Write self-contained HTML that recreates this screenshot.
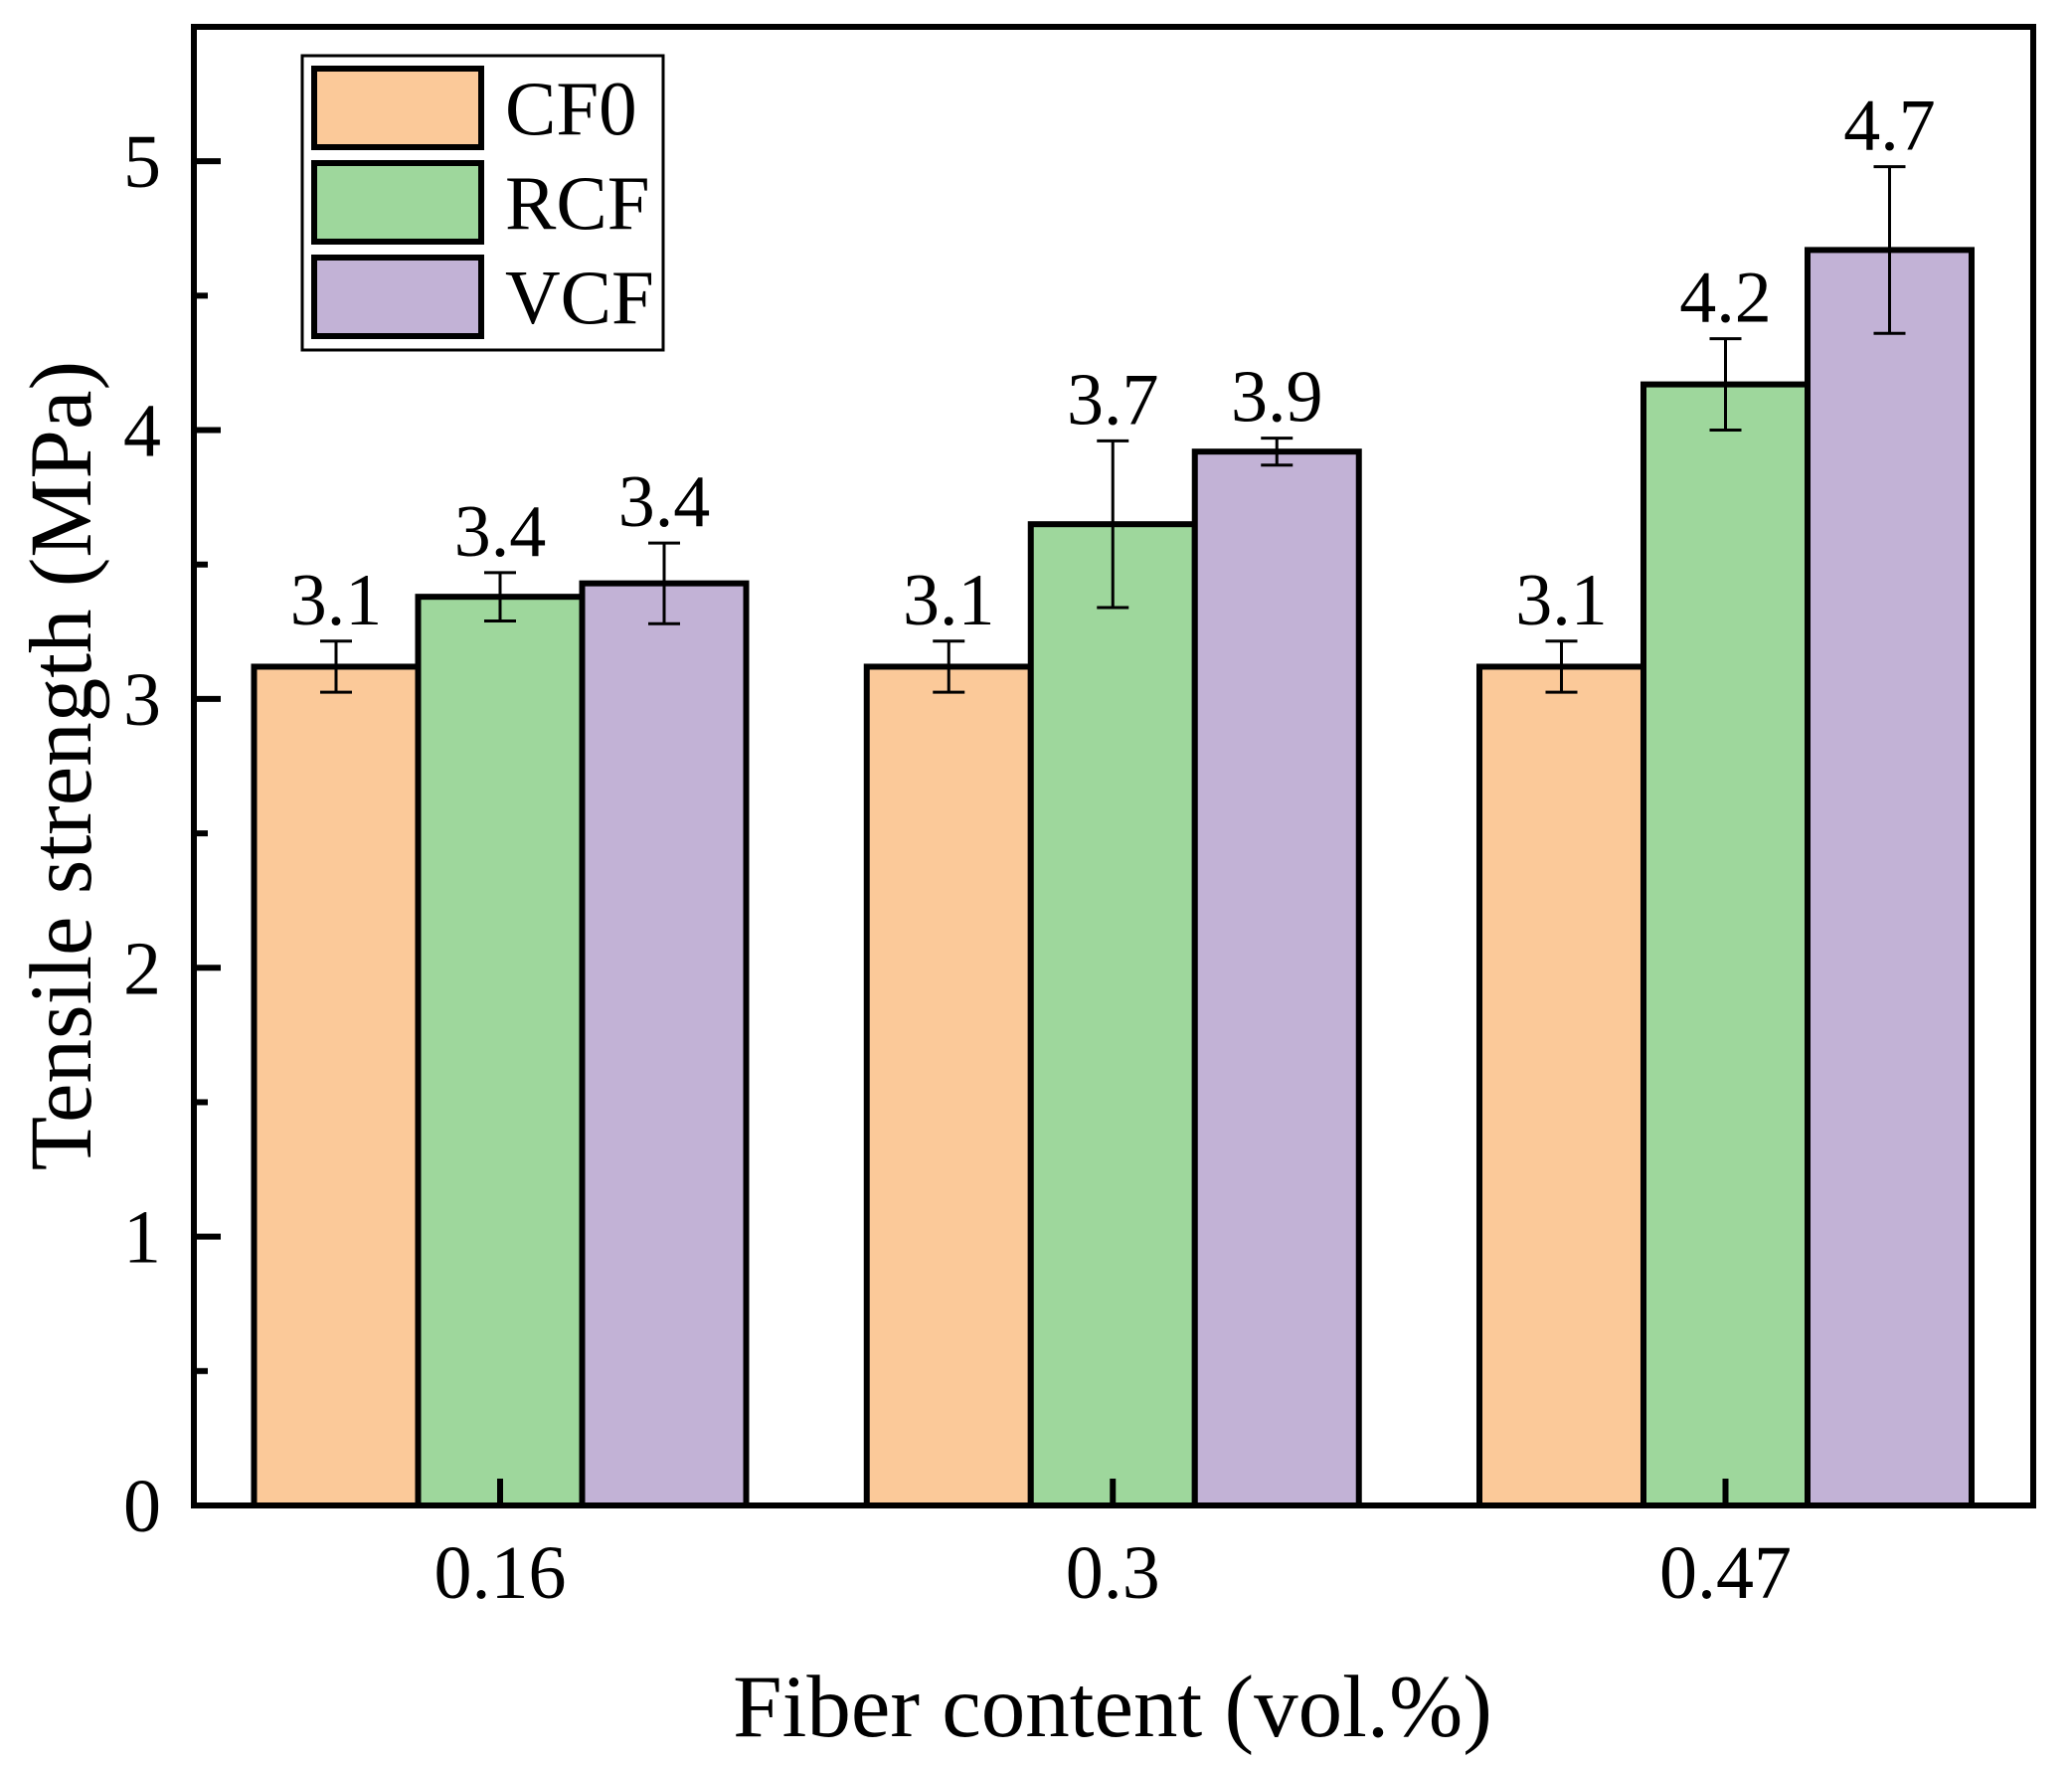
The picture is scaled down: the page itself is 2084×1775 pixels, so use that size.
<!DOCTYPE html>
<html><head><meta charset="utf-8"><style>
html,body{margin:0;padding:0;background:#fff;}
svg{display:block;}
text{font-family:"Liberation Serif",serif;fill:#000;}
</style></head><body>
<svg id="chart" width="2084" height="1775" viewBox="0 0 2084 1775" xmlns="http://www.w3.org/2000/svg">
<g id="bars"></g>
<g id="axes"></g>
<g id="legend"></g>
</svg>
<script>
const categories = ["0.16", "0.3", "0.47"];
const seriesNames = ["CF0", "RCF", "VCF"];
const cf0Values = [3.12, 3.12, 3.12];
const rcfValues = [3.38, 3.65, 4.17];
const vcfValues = [3.43, 3.92, 4.67];
const cf0Errors = [0.095, 0.095, 0.095];
const rcfErrors = [0.09, 0.31, 0.17];
const vcfErrors = [0.15, 0.05, 0.31];
const cf0Labels = ["3.1", "3.1", "3.1"];
const rcfLabels = ["3.4", "3.7", "4.2"];
const vcfLabels = ["3.4", "3.9", "4.7"];
const yTicks = [0, 1, 2, 3, 4, 5];

const NS = "http://www.w3.org/2000/svg";
const colors = ["#FBC999", "#9ED79C", "#C2B2D6"];
const values = [cf0Values, rcfValues, vcfValues];
const errors = [cf0Errors, rcfErrors, vcfErrors];
const labels = [cf0Labels, rcfLabels, vcfLabels];
const plot = {left:195, right:2045, top:27, bottom:1514};
const yMax = 5.5;
function yScale(v){ return plot.bottom - v/yMax*(plot.bottom-plot.top); }
const groupStart = 503, groupStep = 616.25, barW = 165;
function xCenter(i){ return groupStart + i*groupStep; }
function mk(tag, attrs, parent){ const e=document.createElementNS(NS,tag); for(const k in attrs) e.setAttribute(k,attrs[k]); parent.appendChild(e); return e; }

const barsG = document.getElementById('bars');
for(let s=0;s<3;s++){
  for(let i=0;i<categories.length;i++){
    const cx = xCenter(i) + (s-1)*barW;
    const v = values[s][i], e = errors[s][i];
    const r = mk('rect',{x:cx-barW/2,y:yScale(v),width:barW,height:plot.bottom-yScale(v),fill:colors[s],stroke:'#000','stroke-width':6},barsG);
    
    
    const yt=yScale(v+e), yb=yScale(v-e);
    const eg = mk('g',{stroke:'#000','stroke-width':3},barsG);
    
    
    mk('line',{x1:cx,x2:cx,y1:yt,y2:yb},eg);
    mk('line',{x1:cx-16,x2:cx+16,y1:yt,y2:yt},eg);
    mk('line',{x1:cx-16,x2:cx+16,y1:yb,y2:yb},eg);
    const t = mk('text',{x:cx,y:yt-17,'text-anchor':'middle','font-size':74},barsG);
    t.textContent = labels[s][i];
    
    
  }
}

const axG = document.getElementById('axes');
const frame = mk('rect',{x:plot.left,y:plot.top,width:plot.right-plot.left,height:plot.bottom-plot.top,fill:'none',stroke:'#000','stroke-width':6},axG);


for(let v=0; v<=yMax+1e-9; v+=0.5){
  const y=yScale(v);
  const major = Math.abs(v-Math.round(v))<1e-9;
  const tk = mk('line',{x1:plot.left,x2:plot.left+(major?27:14),y1:y,y2:y,stroke:'#000','stroke-width':6},axG);
  
  
}
yTicks.forEach(v=>{
  const t = mk('text',{x:162,y:yScale(v)+26,'text-anchor':'end','font-size':76},axG);
  t.textContent = String(v);
  
  
});
categories.forEach((c,i)=>{
  const x=xCenter(i);
  const tk = mk('line',{x1:x,x2:x,y1:plot.bottom,y2:plot.bottom-27,stroke:'#000','stroke-width':6},axG);
  
  
  const t = mk('text',{x:x,y:1607,'text-anchor':'middle','font-size':76},axG);
  t.textContent = c;
  
  
});
const xt = mk('text',{x:1119,y:1746,'text-anchor':'middle','font-size':89},axG);
xt.textContent = 'Fiber content (vol.%)';


const yt = mk('text',{x:0,y:0,'text-anchor':'middle','font-size':89,transform:'translate(91,770) rotate(-90)'},axG);
yt.textContent = 'Tensile strength (MPa)';



const lg = document.getElementById('legend');
const lbox = mk('rect',{x:304,y:56,width:363,height:296,fill:'#fff',stroke:'#000','stroke-width':3},lg);


seriesNames.forEach((n,s)=>{
  const y0 = 66 + s*95;
  const g = mk('g',{},lg);
  
  
  mk('rect',{x:316,y:y0+3,width:168,height:79,fill:colors[s],stroke:'#000','stroke-width':6},g);
  const t = mk('text',{x:508,y:y0+69,'font-size':77},g);
  t.textContent = n;
});
</script>
</body></html>
